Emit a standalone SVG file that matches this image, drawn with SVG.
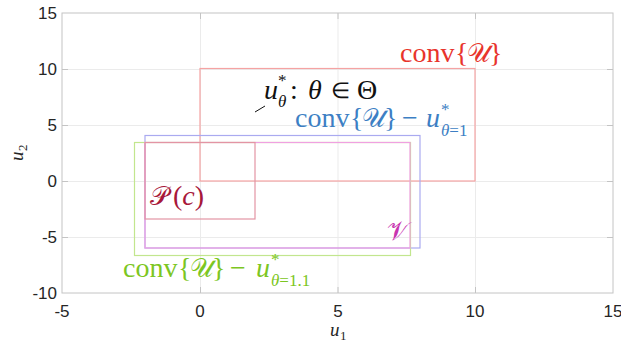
<svg xmlns="http://www.w3.org/2000/svg" width="621" height="348" viewBox="0 0 621 348">
<style>
.grid{stroke:#ebebeb;stroke-width:1;fill:none}
.axis{stroke:#c4c4c4;stroke-width:1;fill:none}
.tick{font-family:"Liberation Sans",Arial,sans-serif;font-size:17px;fill:#262626}
.m{font-family:"Liberation Serif","Times New Roman",serif;font-size:28px}
.sc{font-family:"DejaVu Serif","DejaVu Sans","Noto Sans",serif;font-style:normal;font-size:26px}
.it{font-style:italic}
.sm{font-size:17px}
.box{fill:none;stroke-width:1.2}
</style>
<rect x="0" y="0" width="621" height="348" fill="#ffffff"/>
<g id="grid">
<path class="grid" d="M200.5 13V293M338 13V293M475.5 13V293M62 69.5H613M62 125.5H613M62 181.5H613M62 237.5H613"/>
</g>
<g id="sets">
<rect id="convU" class="box" x="200" y="68.5" width="275" height="112.5" stroke="#f5a3a3"/>
<rect id="convU1" class="box" x="145" y="135.5" width="275" height="112.5" stroke="#aaaaf0"/>
<rect id="convU11" class="box" x="134.5" y="142.5" width="276" height="113" stroke="#c2e68e"/>
<rect id="V" class="box" x="145" y="142.5" width="265" height="105.5" stroke="#f0a0e2"/>
<rect id="Pc" class="box" x="145" y="142.5" width="110" height="76.5" stroke="#e394a4"/>
</g>
<g id="axes">
<rect class="axis" x="62" y="13" width="551" height="280"/>
<path class="axis" d="M200.5 293v-6M338 293v-6M475.5 293v-6M200.5 13v6M338 13v6M475.5 13v6M62 69.5h6M62 125.5h6M62 181.5h6M62 237.5h6M613 69.5h-6M613 125.5h-6M613 181.5h-6M613 237.5h-6"/>
</g>
<g id="ticklabels">
<text class="tick" x="57" y="19" text-anchor="end">15</text>
<text class="tick" x="57" y="75" text-anchor="end">10</text>
<text class="tick" x="57" y="131" text-anchor="end">5</text>
<text class="tick" x="57" y="187" text-anchor="end">0</text>
<text class="tick" x="57" y="243" text-anchor="end">-5</text>
<text class="tick" x="57" y="299" text-anchor="end">-10</text>
<text class="tick" x="62" y="317" text-anchor="middle">-5</text>
<text class="tick" x="200" y="317" text-anchor="middle">0</text>
<text class="tick" x="338" y="317" text-anchor="middle">5</text>
<text class="tick" x="475" y="317" text-anchor="middle">10</text>
<text class="tick" x="613" y="317" text-anchor="middle">15</text>
</g>
<g id="axislabels" font-family="Liberation Serif,serif" fill="#262626">
<text x="330" y="336" font-size="19" font-style="italic">u</text>
<text x="340" y="340" font-size="13">1</text>
<g transform="translate(23,161) rotate(-90)">
<text x="0" y="0" font-size="19" font-style="italic">u</text>
<text x="10" y="4" font-size="13">2</text>
</g>
</g>
<g id="label-convU" class="m" fill="#e8342c">
<text x="400" y="62">conv</text>
<text x="455" y="62">{</text>
<text x="467" y="62" class="sc">𝒰</text>
<text x="489" y="62">}</text>
</g>
<g id="label-utheta" class="m" fill="#111111">
<line x1="255" y1="112" x2="265" y2="106" stroke="#111" stroke-width="1"/>
<text x="264" y="99" class="it">u</text>
<text x="278" y="86" class="sm">*</text>
<text x="278" y="107" class="sm it">θ</text>
<text x="290" y="99">:</text>
<text x="308" y="99" class="it">θ</text>
<text x="331" y="98" font-size="22">∈</text>
<text x="357" y="99">Θ</text>
</g>
<g id="label-convU1" class="m" fill="#3d7fc4">
<text x="295" y="127">conv</text>
<text x="350" y="127">{</text>
<text x="362" y="127" class="sc">𝒰</text>
<text x="384" y="127">}</text>
<text x="402" y="127">−</text>
<text x="426" y="127" class="it">u</text>
<text x="441" y="115" class="sm">*</text>
<text x="441" y="136" class="sm"><tspan class="it">θ</tspan>=1</text>
</g>
<g id="label-convU11" class="m" fill="#7cc622">
<text x="123" y="277">conv</text>
<text x="178" y="277">{</text>
<text x="190" y="277" class="sc">𝒰</text>
<text x="212" y="277">}</text>
<text x="230" y="277">−</text>
<text x="256" y="277" class="it">u</text>
<text x="271" y="265" class="sm">*</text>
<text x="271" y="286" class="sm"><tspan class="it">θ</tspan>=1.1</text>
</g>
<g id="label-Pc" class="m" fill="#a8183a">
<text x="150" y="205" class="sc">𝒫</text>
<text x="173" y="205">(<tspan class="it">c</tspan>)</text>
</g>
<g id="label-V" class="m" fill="#c833b0">
<text x="387" y="240" class="sc">𝒱</text>
</g>
</svg>
